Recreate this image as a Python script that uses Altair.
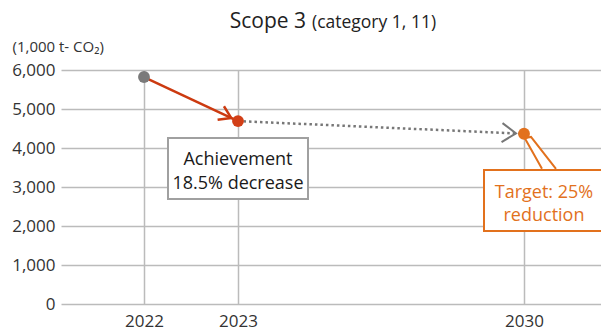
import altair as alt
import pandas as pd

# ---- data ----
years = [2022, 2023, 2030]
emissions = [5820, 4690, 4365]
point_colors = ["#7a7a7a", "#d23f17", "#e2711d"]
y_ticks = [0, 1000, 2000, 3000, 4000, 5000, 6000]

title_main = "Scope 3"
title_sub = "(category 1, 11)"
unit_label = "(1,000 t- CO₂)"
achievement_text = ["Achievement", "18.5% decrease"]
target_text = ["Target: 25%", "reduction"]

FONT = "Open Sans"
RED = "#cc3a10"
ORANGE = "#e2711d"
GRAY = "#777777"

pts = pd.DataFrame({"year": years, "value": emissions, "color": point_colors})
actual = pd.DataFrame({"year": years[0:2], "value": emissions[0:2]})
plan = pd.DataFrame({"year": years[1:3], "value": emissions[1:3]})
one = pd.DataFrame({"k": [0]})

x_scale = alt.Scale(domain=[2021.117, 2023, 2030, 2031], range=[0, 177, 463, 540], nice=False, zero=False)
y_scale = alt.Scale(domain=[0, 6000], nice=False, zero=True)

x_enc = alt.X("year:Q", scale=x_scale, axis=alt.Axis(
    values=years, format="d", title=None, labelFontSize=17, labelColor="#333",
    labelPadding=9, ticks=False, domain=False, grid=True, gridColor="#bbbbbb",
    gridWidth=1.5, labelFont=FONT, labelOverlap=False))
y_enc = alt.Y("value:Q", scale=y_scale, axis=alt.Axis(
    values=y_ticks, format=",d", title=unit_label, titleAngle=0, titleAlign="left",
    titleBaseline="middle", titleX=-49, titleY=-24, titleFontSize=15,
    titleFontWeight="normal", titleColor="#333", titleFont=FONT,
    labelFontSize=17, labelColor="#333", labelPadding=6, labelFont=FONT,
    labelOverlap=False, ticks=False, domain=False, grid=True,
    gridColor="#bbbbbb", gridWidth=1.5))

base_axes = alt.Chart(pts).mark_point(opacity=0).encode(x=x_enc, y=y_enc)

# target callout box + wedge
target_box = alt.Chart(one).mark_rect(fill="white", stroke=ORANGE, strokeWidth=2).encode(
    x=alt.value(423), x2=alt.value(546), y=alt.value(100), y2=alt.value(161))
wedge = alt.Chart(pts.iloc[[2]]).mark_point(
    shape="M 0.514 1 L 0.02 0.12 L 0.2 0.09 L 0.914 1",
    size=4900, filled=True, fill="white", stroke=ORANGE, strokeWidth=2, opacity=1
).encode(x=x_enc, y=y_enc)

# achievement box
ach_box = alt.Chart(one).mark_rect(fill="white", stroke="#a0a0a0", strokeWidth=2).encode(
    x=alt.value(107), x2=alt.value(247), y=alt.value(68), y2=alt.value(129))

actual_line = alt.Chart(actual).mark_line(color=RED, strokeWidth=2.5).encode(x=x_enc, y=y_enc)
plan_line = alt.Chart(plan).mark_line(color=GRAY, strokeWidth=2.5, strokeDash=[2.5, 3]).encode(x=x_enc, y=y_enc)

points = alt.Chart(pts).mark_point(filled=True, size=140, opacity=1).encode(
    x=x_enc, y=y_enc, color=alt.Color("color:N", scale=None))

arrow_red = alt.Chart(pts.iloc[[1]]).mark_point(
    shape="M -1.9 -0.75 L -0.75 0 L -1.9 0.75", size=400, filled=False,
    stroke=RED, strokeWidth=2.5, angle=25, opacity=1
).encode(x=x_enc, y=y_enc)
arrow_gray = alt.Chart(pts.iloc[[2]]).mark_point(
    shape="M -2.2 -0.95 L -0.8 0 L -2.2 0.95", size=400, filled=False,
    stroke=GRAY, strokeWidth=2, angle=3, opacity=1
).encode(x=x_enc, y=y_enc)

ach_text = alt.Chart(one).mark_text(
    text=achievement_text, font=FONT, fontSize=18, color="#1a1a1a", lineHeight=24,
    align="center", baseline="middle"
).encode(x=alt.value(177), y=alt.value(90))
tgt_text = alt.Chart(one).mark_text(
    text=target_text, font=FONT, fontSize=18, color=ORANGE, lineHeight=23,
    align="center", baseline="middle"
).encode(x=alt.value(483), y=alt.value(123))

t_main = alt.Chart(one).mark_text(text=title_main, font=FONT, fontSize=21, color="#222",
                                   align="right", baseline="middle").encode(
    x=alt.value(245), y=alt.value(-48))
t_sub = alt.Chart(one).mark_text(text=title_sub, font=FONT, fontSize=17.5, color="#222",
                                  align="left", baseline="middle").encode(
    x=alt.value(251), y=alt.value(-47))

chart = alt.layer(
    base_axes, target_box, wedge, ach_box, actual_line, plan_line, points,
    arrow_red, arrow_gray, ach_text, tgt_text, t_main, t_sub
).properties(
    width=540, height=234,
    autosize=alt.AutoSizeParams(type="none"),
    padding={"left": 61, "top": 70, "right": 0, "bottom": 30},
).configure_view(stroke=None)

chart.save("out.html", embed_options={"renderer": "svg", "actions": False})
